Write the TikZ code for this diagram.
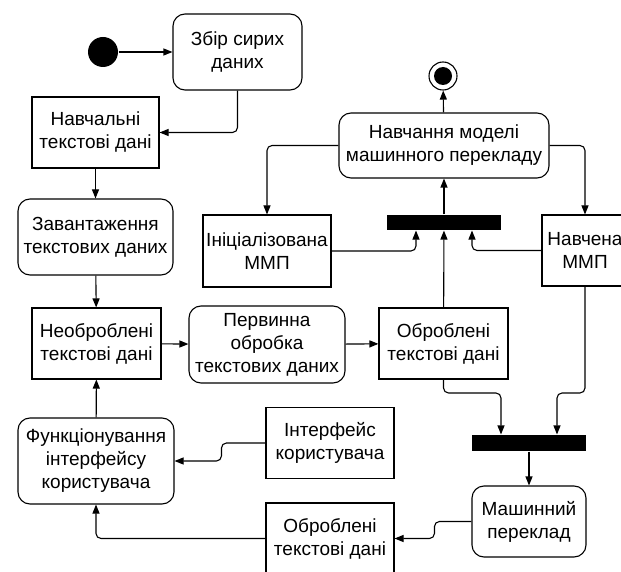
\documentclass[tikz,border=0pt]{standalone}
\usepackage{fontspec}
\setmainfont{Liberation Sans}
\usetikzlibrary{positioning}
\usetikzlibrary{arrows.meta}

\begin{document}
\begin{tikzpicture}[x=1pt, y=-1pt, line width=1.1pt,
  >={Triangle[length=9pt,width=7pt]},
  font=\fontsize{19}{23}\selectfont,
  act/.style={draw, rounded corners=12pt, align=center, inner sep=0pt},
  obj/.style={draw, align=center, inner sep=0pt},
  bar/.style={fill=black, inner sep=0pt, minimum width=114pt, minimum height=15pt},
  conn/.style={->, rounded corners=5pt}]
\useasboundingbox (0,0) rectangle (621,572);

\node [circle, fill=black, minimum size=30pt, inner sep=0pt] (start) at (103,52) {};
\node [act, minimum width=129pt, minimum height=76pt] (sbir) at (237.5,52) {Збір сирих\\даних};
\node [obj, minimum width=127pt, minimum height=71pt] (navch) at (95.5,132.5) {Навчальні\\текстові дані};
\node [act, minimum width=155pt, minimum height=76pt] (zavant) at (95.5,237) {Завантаження\\текстових даних};
\node [obj, minimum width=129pt, minimum height=71pt] (neobr) at (96.5,343.5) {Необроблені\\текстові дані};
\node [act, minimum width=156pt, minimum height=77pt] (perv) at (267,344.5) {Первинна\\обробка\\текстових даних};
\node [obj, minimum width=129pt, minimum height=71pt] (obr) at (443.5,343.5) {Оброблені\\текстові дані};
\node [act, minimum width=210pt, minimum height=65pt] (model) at (444,145.5) {Навчання моделі\\машинного перекладу};
\node [circle, draw, minimum size=28pt, inner sep=0pt] (finish) at (443,76) {};
\fill (finish.center) circle (9pt);
\node [bar] (bar1) at (444,222.5) {};
\node [obj, minimum width=128pt, minimum height=72pt] (init) at (267,251) {Ініціалізована\\ММП};
\node [obj, minimum width=86pt, minimum height=71pt] (trained) at (585,250.5) {Навчена\\ММП};
\node [bar, minimum height=16pt] (bar2) at (529,443) {};
\node [act, minimum width=114pt, minimum height=71pt] (mt) at (529,521.5) {Машинний\\переклад};
\node [obj, minimum width=128pt, minimum height=71pt] (obr2) at (330,538.5) {Оброблені\\текстові дані};
\node [obj, minimum width=128pt, minimum height=71pt] (intf) at (330,443) {Інтерфейс\\користувача};
\node [act, minimum width=156pt, minimum height=86pt] (func) at (96,461) {Функціонування\\інтерфейсу\\користувача};

% training branch
\draw [->] (start) -- (sbir);
\draw [conn] (sbir.south) |- (navch.east);
\draw [->] (navch) -- (zavant);
\draw [->] (zavant) -- (neobr);
\draw [->] (neobr) -- (perv);
\draw [->] (perv) -- (obr);
\draw [->] (obr) -- (bar1);
\draw [conn] (init.east) -| ([xshift=-28pt]bar1.south);
\draw [conn] (trained.west) -| ([xshift=28pt]bar1.south);
\draw [->] (bar1) -- (model);
\draw [->] (model) -- (finish);
\draw [conn] (model.west) -| (init.north);
\draw [conn] (model.east) -| (trained.north);

% translation branch
\coordinate (split) at (0,393);
\draw [conn] (obr.south) -- (obr.south |- split) -| ([xshift=-28pt]bar2.north);
\draw [conn] (trained.south) -- (trained.south |- split) -| ([xshift=28pt]bar2.north);
\draw [->] (bar2) -- (mt);
\draw [conn] (mt.west) -- ++(-37,0) |- (obr2.east);
\draw [conn] (obr2.west) -| (func.south);
\draw [conn] (intf.west) -- ++(-44,0) |- (func.east);
\draw [->] (func) -- (neobr);
\end{tikzpicture}
\end{document}
